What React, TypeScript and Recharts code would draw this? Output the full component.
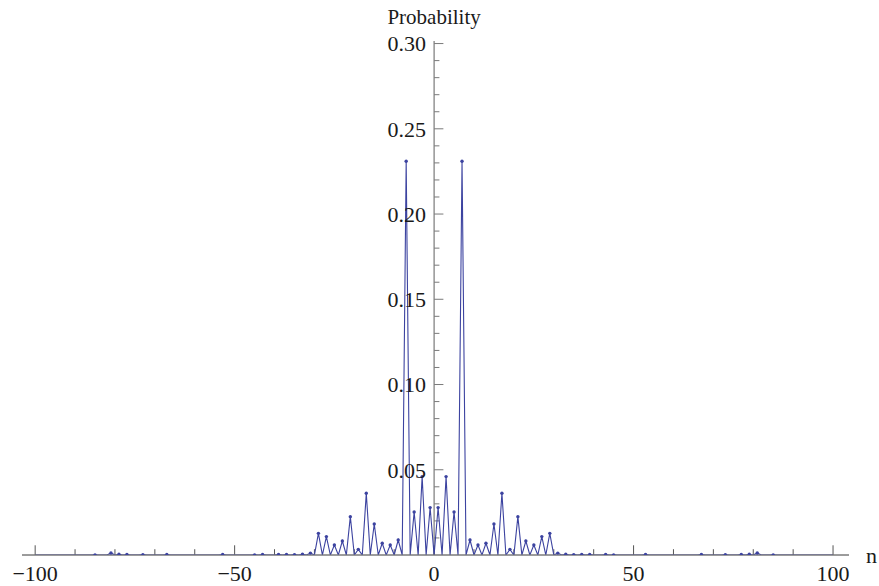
import React from 'react';
import { LineChart, Line, XAxis, YAxis, ReferenceLine } from 'recharts';

const nValues = [
  -100, -99, -98, -97, -96, -95, -94, -93, -92, -91, -90, -89, -88, -87, -86, -85, -84, -83, -82, -81,
  -80, -79, -78, -77, -76, -75, -74, -73, -72, -71, -70, -69, -68, -67, -66, -65, -64, -63, -62, -61,
  -60, -59, -58, -57, -56, -55, -54, -53, -52, -51, -50, -49, -48, -47, -46, -45, -44, -43, -42, -41,
  -40, -39, -38, -37, -36, -35, -34, -33, -32, -31, -30, -29, -28, -27, -26, -25, -24, -23, -22, -21,
  -20, -19, -18, -17, -16, -15, -14, -13, -12, -11, -10, -9, -8, -7, -6, -5, -4, -3, -2, -1,
  0,
  1, 2, 3, 4, 5, 6, 7, 8, 9, 10, 11, 12, 13, 14, 15, 16, 17, 18, 19, 20,
  21, 22, 23, 24, 25, 26, 27, 28, 29, 30, 31, 32, 33, 34, 35, 36, 37, 38, 39, 40,
  41, 42, 43, 44, 45, 46, 47, 48, 49, 50, 51, 52, 53, 54, 55, 56, 57, 58, 59, 60,
  61, 62, 63, 64, 65, 66, 67, 68, 69, 70, 71, 72, 73, 74, 75, 76, 77, 78, 79, 80,
  81, 82, 83, 84, 85, 86, 87, 88, 89, 90, 91, 92, 93, 94, 95, 96, 97, 98, 99, 100,
];

const probabilities = [
  0, 0, 0, 0, 0, 0, 0, 0, 0, 0, 0, 0, 0, 0, 0, 0.0001, 0, 0, 0, 0.0012,
  0, 0.0004, 0, 0.0003, 0, 0, 0, 0.0002, 0, 0, 0, 0, 0, 0.0003, 0, 0, 0, 0, 0, 0,
  0, 0, 0, 0, 0, 0, 0, 0.0003, 0, 0, 0, 0, 0, 0, 0, 0.0001, 0, 0.0003, 0, 0,
  0, 0.0003, 0, 0.0003, 0, 0.0002, 0, 0.0004, 0, 0.0011, 0, 0.0127, 0, 0.0108, 0, 0.0059, 0, 0.0082, 0, 0.0225,
  0, 0.0033, 0, 0.0362, 0, 0.0182, 0, 0.0069, 0, 0.0059, 0, 0.0088, 0, 0.231, 0, 0.0252, 0, 0.046, 0, 0.0278,
  0,
  0.0278, 0, 0.046, 0, 0.0252, 0, 0.231, 0, 0.0088, 0, 0.0059, 0, 0.0069, 0, 0.0182, 0, 0.0362, 0, 0.0033, 0,
  0.0225, 0, 0.0082, 0, 0.0059, 0, 0.0108, 0, 0.0127, 0, 0.0011, 0, 0.0004, 0, 0.0002, 0, 0.0003, 0, 0.0003, 0,
  0, 0, 0.0003, 0, 0.0001, 0, 0, 0, 0, 0, 0, 0, 0.0003, 0, 0, 0, 0, 0, 0, 0,
  0, 0, 0, 0, 0, 0, 0.0003, 0, 0, 0, 0, 0, 0.0002, 0, 0, 0, 0.0003, 0, 0.0004, 0,
  0.0012, 0, 0, 0, 0.0001, 0, 0, 0, 0, 0, 0, 0, 0, 0, 0, 0, 0, 0, 0, 0,
];

const xMajorTicks = [-100, -50, 0, 50, 100];
const xMinorTicks = [-90, -80, -70, -60, -40, -30, -20, -10, 10, 20, 30, 40, 60, 70, 80, 90];
const yMajorTicks = [0.05, 0.1, 0.15, 0.2, 0.25, 0.3];
const yMajorLabels = ['0.05', '0.10', '0.15', '0.20', '0.25', '0.30'];
const yMinorTicks = [
  0.01, 0.02, 0.03, 0.04, 0.06, 0.07, 0.08, 0.09, 0.11, 0.12, 0.13, 0.14,
  0.16, 0.17, 0.18, 0.19, 0.21, 0.22, 0.23, 0.24, 0.26, 0.27, 0.28, 0.29,
];

const rows = nValues.map((n, i) => ({ n, p: probabilities[i] }));

const FONT = '"Liberation Serif", "Times New Roman", serif';
const AXIS = '#7a7a7a';
const TICK = '#555555';
const LINE = '#3c43a0';

const fmtX = (v: number) => (v < 0 ? '\u2212' + Math.abs(v) : String(v));

const renderDot = (props: any) => {
  const { cx, cy, payload, index } = props;
  if (!payload || !(payload.p > 0)) return <g key={'d' + index} />;
  return <circle key={'d' + index} cx={cx} cy={cy} r={1.7} fill={LINE} stroke="none" />;
};

export default function App() {
  return (
    <div style={{ position: 'absolute', left: 0, top: 0, width: 879, height: 586, background: '#fff' }}>
      <LineChart
        width={879}
        height={586}
        data={rows}
        margin={{ top: 41, right: 30, bottom: 1, left: 22 }}
        style={{ fontFamily: FONT }}
      >
        <XAxis
          dataKey="n"
          type="number"
          domain={[-103.3, 104]}
          ticks={xMajorTicks}
          tickFormatter={fmtX}
          tickLine={false}
          tickSize={0}
          tickMargin={10}
          height={30}
          axisLine={{ stroke: AXIS, strokeWidth: 1 }}
          tick={{ fill: '#1a1a1a', fontSize: 22, fontFamily: FONT }}
          interval={0}
          allowDataOverflow
        />
        <YAxis type="number" domain={[0, 0.3015]} hide allowDataOverflow />
        <ReferenceLine
          x={0}
          stroke={AXIS}
          strokeWidth={1.2}
          label={{ value: 'Probability', position: 'top', offset: 17, fill: '#1a1a1a', fontSize: 21, fontFamily: FONT }}
        />
        <ReferenceLine
          y={0}
          stroke={AXIS}
          strokeWidth={1}
          label={{ value: 'n', position: 'right', offset: 17, fill: '#1a1a1a', fontSize: 22, fontFamily: FONT }}
        />
        {xMajorTicks.map((v) => (
          <ReferenceLine key={'xM' + v} segment={[{ x: v, y: 0 }, { x: v, y: 0.0057 }]} stroke={TICK} strokeWidth={1} />
        ))}
        {xMinorTicks.map((v) => (
          <ReferenceLine key={'xm' + v} segment={[{ x: v, y: 0 }, { x: v, y: 0.0034 }]} stroke={TICK} strokeWidth={1} />
        ))}
        {yMajorTicks.map((v, i) => (
          <ReferenceLine
            key={'yM' + v}
            segment={[{ x: 0, y: v }, { x: 2.33, y: v }]}
            stroke={AXIS}
            strokeWidth={1}
            label={{ value: yMajorLabels[i], position: 'left', offset: 8, fill: '#1a1a1a', fontSize: 22, fontFamily: FONT }}
          />
        ))}
        {yMinorTicks.map((v) => (
          <ReferenceLine key={'ym' + v} segment={[{ x: 0, y: v }, { x: 1.33, y: v }]} stroke={AXIS} strokeWidth={1} />
        ))}
        <Line
          dataKey="p"
          type="linear"
          stroke={LINE}
          strokeWidth={1.1}
          dot={renderDot}
          activeDot={false}
          isAnimationActive={false}
        />
      </LineChart>
    </div>
  );
}
